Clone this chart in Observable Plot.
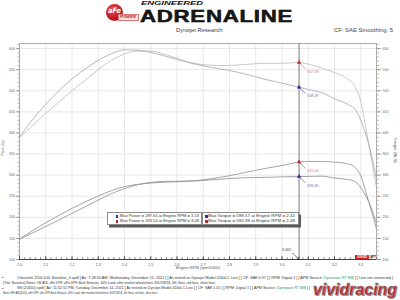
<!DOCTYPE html>
<html><head><meta charset="utf-8">
<script src="https://cdn.jsdelivr.net/npm/d3@7"></script>
<script src="https://cdn.jsdelivr.net/npm/@observablehq/plot@0.6"></script>
<style>
html,body{margin:0;padding:0;background:#fff;}
#wrap{position:relative;width:400px;height:300px;overflow:hidden;background:#fff;font-family:"Liberation Sans",Arial,sans-serif;}
#wrap > svg{position:absolute;left:0;top:0;}
.t{position:absolute;white-space:nowrap;line-height:1;transform-origin:0 0;}
.box{position:absolute;background:#fff;border:0.8px solid #8a8a8a;box-shadow:2px 2.5px 0 #5a5a5a;}
</style></head><body>
<div id="wrap"></div>
<script>
// ---------------- data ----------------
const rpm = [2.00, 2.05, 2.10, 2.15, 2.20, 2.25, 2.30, 2.35, 2.40, 2.45, 2.50, 2.55, 2.60, 2.65, 2.70, 2.75, 2.80, 2.85, 2.90, 2.95, 3.00, 3.065, 3.10, 3.15, 3.20, 3.25, 3.28, 3.30, 3.32, 3.34, 3.36];
const torqueBaseline = [390, 432, 468, 500, 528, 552, 572, 588, 597, 596, 591, 583, 574, 566, 559, 553, 548, 541, 533, 525, 518, 508.4, 503, 496, 481, 468, 455, 430, 395, 350, 290];
const torqueTuned    = [388, 418, 446, 473, 500, 525, 550, 572, 587, 594, 594, 587, 577, 567, 562, 560, 560, 562, 564, 565, 565, 567.1, 563, 554, 543, 528, 508, 475, 410, 340, 270];
const powerBaseline  = [148.5, 168.6, 187.1, 204.7, 221.2, 236.5, 250.5, 263.1, 272.8, 278.0, 281.3, 283.1, 284.2, 285.6, 287.4, 289.6, 292.2, 293.6, 294.3, 294.9, 295.9, 296.7, 296.9, 297.5, 293.1, 289.6, 284.1, 270.2, 249.7, 222.6, 185.5];
const powerTuned     = [147.8, 163.2, 178.3, 193.6, 209.4, 224.9, 240.9, 255.9, 268.2, 277.1, 282.7, 285.0, 285.6, 286.1, 288.9, 293.2, 298.6, 305.0, 311.4, 317.4, 322.7, 331.0, 332.3, 332.3, 330.8, 326.7, 317.3, 298.5, 259.2, 216.2, 172.7];

const xTicks = [2.0, 2.1, 2.2, 2.3, 2.4, 2.5, 2.6, 2.7, 2.8, 2.9, 3.0, 3.1, 3.2, 3.3];
const yTicks = [100, 150, 200, 250, 300, 350, 400, 450, 500, 550, 600];
const xDomain = [2.0, 3.36];
const yDomain = [100, 612];

const cursorRpm = 3.065;
const cursorValues = [567.09, 508.37, 331.04, 296.65];
const cursorRun = ["tuned", "baseline", "tuned", "baseline"];

const legendPower = [297.65, 333.54];
const legendPowerRpm = [3.13, 3.09];
const legendTorque = [598.17, 594.99];
const legendTorqueRpm = [2.41, 2.48];
const legendRun = ["baseline", "tuned"];

const runColor = {baseline: "#2b2b9c", tuned: "#c42a2a"};
const runLabelColor = {baseline: "#6c6c96", tuned: "#c98080"};
const lineColor = {torqueTuned: "#c6b7b7", torqueBaseline: "#a3a3b0", powerTuned: "#958b8b", powerBaseline: "#8a8a98"};

const footer = [
  "Chevrolet 2500 6.6L Baseline_4.xpdl [ Air: 7:28:50 AM, Wednesday, December 15, 2021 ] [ As tested on Dynojet Model 424xLC Linx ] [ CF: SAE 0.97 ] [ RPM: Digital 1 ] [ APM Source: Dynoware RT WB ] [ Line not connected ]",
  "[Title: Baseline]  Notes: OE AIS, aFe DPF, aFe DPF-Back Exhaust, 40% Load, after market wheels/tires 305/70R18, 4th Gear, red fans, silver fans",
  "SN (20650).xpdl [ Air: 11:32:51 PM, Tuesday, December 14, 2021 ] As tested on Dynojet Model 424xLC Linx ] [ CF: SAE 1.01 ] [ RPM: Digital 1 ] [ APM Source: Dynoware RT WB ] [",
  "Notes: MF AIS(4050), aFe DPF, aFe DPF-Back Exhaust, 40% Load, after market wheels/tires 305/70R18, 4th Gear, red fans, silver fans"
];

// ---------------- chart ----------------
const yMinor = d3.range(100, 611, 10);
const xMinor = d3.range(0, 69).map(i => 2 + i * 0.02);
const cursorRows = cursorValues.map((v, i) => ({rpm: cursorRpm, value: v, run: cursorRun[i], label: d3.format(".2f")(v)}));
const lineShape = {draw(ctx, l) { ctx.moveTo(0, 0); ctx.lineTo(0, -l); }};
const tickUp = {draw(ctx, size) { const l = Math.sqrt(size / Math.PI); ctx.moveTo(0, 0); ctx.lineTo(0, -l); }};
const bottomVal = () => yDomain[0];

const chart = Plot.plot({
  width: 400, height: 300,
  marginLeft: 19, marginRight: 24, marginTop: 43, marginBottom: 41,
  x: {domain: xDomain},
  y: {domain: yDomain},
  style: {background: "transparent", fontFamily: "Liberation Sans, Arial, sans-serif", color: "#555"},
  marks: [
    Plot.gridX(xTicks, {stroke: "#e2e2e2", strokeOpacity: 1, strokeWidth: 0.8}),
    Plot.gridY(yTicks, {stroke: "#e2e2e2", strokeOpacity: 1, strokeWidth: 0.8}),
    Plot.frame({stroke: "#9a9a9a", strokeWidth: 0.8}),
    Plot.axisY({ticks: yTicks, anchor: "left", tickSize: 3, tickPadding: 1.5, fontSize: 3.6, label: null, color: "#666", strokeWidth: 0.6}),
    Plot.axisY({ticks: yMinor, anchor: "left", tickSize: 1.5, tickFormat: () => "", label: null, color: "#777", strokeWidth: 0.5}),
    Plot.axisY({ticks: yTicks, anchor: "right", tickSize: 4, tickPadding: 2, fontSize: 3.6, label: null, color: "#666", strokeWidth: 0.6}),
    Plot.axisY({ticks: yMinor, anchor: "right", tickSize: 2, tickFormat: () => "", label: null, color: "#777", strokeWidth: 0.5}),
    Plot.axisX({ticks: xTicks, anchor: "bottom", tickSize: 0, tickPadding: 3.5, fontSize: 3.6, tickFormat: d3.format(".1f"), label: null, color: "#555"}),
    Plot.line(torqueTuned, {x: rpm, y: d => d, stroke: lineColor.torqueTuned, strokeWidth: 0.8, curve: "monotone-x", clip: true}),
    Plot.line(torqueBaseline, {x: rpm, y: d => d, stroke: lineColor.torqueBaseline, strokeWidth: 0.8, curve: "monotone-x", clip: true}),
    Plot.line(powerTuned, {x: rpm, y: d => d, stroke: lineColor.powerTuned, strokeWidth: 0.8, curve: "monotone-x", clip: true}),
    Plot.line(powerBaseline, {x: rpm, y: d => d, stroke: lineColor.powerBaseline, strokeWidth: 0.8, curve: "monotone-x", clip: true}),
    Plot.ruleY([yDomain[0]], {stroke: "#444", strokeWidth: 1}),
    Plot.dot(xMinor, {x: d => d, y: bottomVal, symbol: tickUp, r: 2.4, stroke: "#444", strokeWidth: 0.6, fill: "none"}),
    Plot.dot(xTicks, {x: d => d, y: bottomVal, symbol: tickUp, r: 3.4, stroke: "#333", strokeWidth: 0.7, fill: "none"}),
    Plot.ruleX([cursorRpm], {stroke: "#555", strokeWidth: 0.8}),
    Plot.vector(cursorRows, {x: "rpm", y: "value", length: 8.5, rotate: 135, anchor: "start", shape: lineShape, stroke: d => runColor[d.run], strokeWidth: 0.5}),
    Plot.dot(cursorRows, {x: "rpm", y: "value", symbol: "triangle", r: 1.6, fill: d => runColor[d.run], stroke: "none"}),
    Plot.text(cursorRows, {x: "rpm", y: "value", text: "label", dx: 8, dy: 9, textAnchor: "start", fontSize: 3.8, fill: d => runLabelColor[d.run]}),
    Plot.vector([cursorRpm], {x: d => d, y: bottomVal, length: 9, rotate: 135, anchor: "end", stroke: "#222", strokeWidth: 0.6}),
    Plot.text([cursorRpm], {x: d => d, y: bottomVal, text: d => d3.format(".3f")(d), dx: -12.5, dy: -10, fontSize: 3.8, fill: "#444"})
  ]
});
const wrap = document.getElementById("wrap");
wrap.appendChild(chart);

// ---------------- html text helpers ----------------
function addText(html, left, top, style = {}, fitW = null, parent = wrap) {
  const el = document.createElement("div");
  el.className = "t";
  el.innerHTML = html;
  el.style.left = left + "px";
  el.style.top = top + "px";
  Object.assign(el.style, style);
  parent.appendChild(el);
  if (fitW) {
    const w = el.getBoundingClientRect().width;
    if (w > 0) el.style.transform = `scaleX(${fitW / w})`;
  }
  return el;
}
function addRotated(txt, cx, cy, deg, style, fitLen) {
  const el = addText(txt, 0, 0, style);
  const w = el.getBoundingClientRect().width, h = el.getBoundingClientRect().height;
  const s = fitLen ? fitLen / w : 1;
  el.style.left = (cx - w / 2) + "px";
  el.style.top = (cy - h / 2) + "px";
  el.style.transformOrigin = "50% 50%";
  el.style.transform = `rotate(${deg}deg) scaleX(${s})`;
  return el;
}

// header: logo
const circ = document.createElement("div");
Object.assign(circ.style, {position: "absolute", left: "106px", top: "3.5px", width: "17px", height: "17px", borderRadius: "50%",
  background: "radial-gradient(circle at 40% 35%, #f0474d, #c3161f 60%, #8e0c12)"});
wrap.appendChild(circ);
addText("aFe", 107.5, 7, {color: "#fff", fontWeight: "bold", fontStyle: "italic", fontSize: "7.5px", fontFamily: "DejaVu Sans"}, 13);
const pw = document.createElement("div");
Object.assign(pw.style, {position: "absolute", left: "118px", top: "14px", width: "19px", height: "5px", background: "#fbe3e3", border: "0.5px solid #d77"});
wrap.appendChild(pw);
addText("POWER", 119.5, 14.6, {color: "#c3161f", fontWeight: "bold", fontStyle: "italic", fontSize: "4.2px"}, 16);
addText("ENGINEERED", 141, 0.9, {color: "#151515", fontWeight: "bold", fontStyle: "italic", fontSize: "5.6px"}, 62);
addText("ADRENALINE", 140, 7.9, {color: "#1a1a1a", fontWeight: "bold", fontSize: "16.3px", letterSpacing: "0.5px",
  webkitTextStroke: "0.4px #000", textShadow: "0 0 0.6px #999"}, 153);
addText("Dynojet Research", 176, 28.4, {color: "#444", fontSize: "5.3px"}, 46.5);
addText("CF: SAE Smoothing: 5", 334, 28.4, {color: "#444", fontSize: "5.3px"}, 59);

// axis titles
addRotated("Power (hp)", 4.3, 148, -90, {color: "#555", fontSize: "3.8px"}, 15);
addRotated("Torque (lb-ft)", 393.3, 150, 90, {color: "#555", fontSize: "3.8px"}, 26);
addText("Engine RPM (rpm/1000)", 176, 267.4, {color: "#555", fontSize: "3.8px"}, 44);

// legend boxes
function legendBox(left, width, rows, sqLeft, txtLeft, txtW) {
  const b = document.createElement("div");
  b.className = "box";
  Object.assign(b.style, {left: left + "px", top: "212px", width: width + "px", height: "11px"});
  wrap.appendChild(b);
  rows.forEach((r, i) => {
    const sq = document.createElement("div");
    Object.assign(sq.style, {position: "absolute", left: sqLeft + "px", top: (2 + i * 5) + "px", width: "2.6px", height: "2.6px", background: runColor[r.run]});
    b.appendChild(sq);
    addText(r.text, txtLeft, 1.6 + i * 5, {color: "#333", fontSize: "3.7px"}, txtW, b);
  });
}
legendBox(107, 93, legendPower.map((v, i) => ({run: legendRun[i], text: `Max Power = ${d3.format(".2f")(v)} at Engine RPM = ${d3.format(".2f")(legendPowerRpm[i])}`})), 7.5, 12, 79);
legendBox(201.5, 95, legendTorque.map((v, i) => ({run: legendRun[i], text: `Max Torque = ${d3.format(".2f")(v)} at Engine RPM = ${d3.format(".2f")(legendTorqueRpm[i])}`})), 2.5, 5.5, 87);

// mini logo inside plot
const ml = document.createElement("div");
Object.assign(ml.style, {position: "absolute", left: "355px", top: "255.3px", width: "14px", height: "3.8px", background: "#d2232a"});
wrap.appendChild(ml);
addText("VIVID", 356.5, 255.6, {color: "#fff", fontWeight: "bold", fontStyle: "italic", fontSize: "3.3px"}, 10);
addText("SPT", 369.5, 255.6, {color: "#111", fontWeight: "bold", fontSize: "3.3px"}, 6);

// footer
addText("•", 2, 276.2, {color: "#222", fontSize: "4px"});
addText("•", 2, 286.8, {color: "#222", fontSize: "4px"});
const fl = footer.map(s => s.replace("Dynoware RT WB", '<span style="color:#2f8f6f">Dynoware RT WB</span>'));
addText(fl[0], 16.7, 276.5, {color: "#333", fontSize: "3.6px"}, 376);
addText(fl[1], 2.7, 281.5, {color: "#333", fontSize: "3.6px"}, 212);
addText(fl[2], 16.7, 287.2, {color: "#333", fontSize: "3.6px"}, 293);
addText(fl[3], 2.7, 292.2, {color: "#333", fontSize: "3.6px"}, 154);

// watermark
addText("vividracing", 313, 282, {color: "#d2232a", fontWeight: "bold", fontStyle: "italic", fontSize: "16px",
  webkitTextStroke: "0.5px #7a7a7a", textShadow: "1px 1px 0 #9a9a9a"}, 84);
</script>
</body></html>
